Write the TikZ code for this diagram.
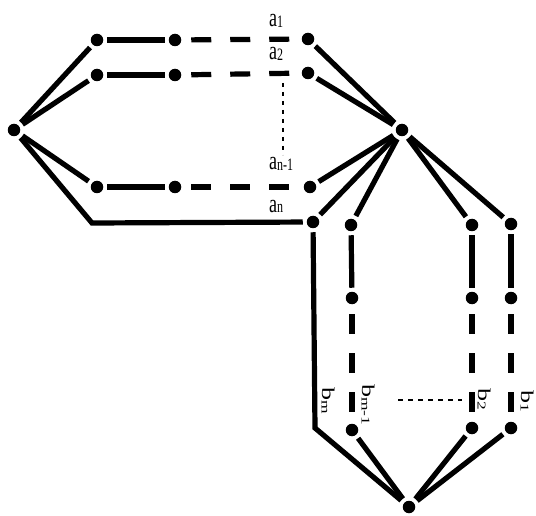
\documentclass[tikz,border=0pt]{standalone}
\usepackage{fontspec}
\setmainfont{Liberation Serif}
\begin{document}
\begin{tikzpicture}[x=1pt,y=-1pt,
  dot/.style={circle,fill=black,inner sep=0pt,minimum size=12.5pt,outer sep=4pt},
  edge/.style={line width=5.2pt},
  dashedge/.style={line width=5.2pt,dash pattern=on 20pt off 19pt,dash phase=33pt},
  guide/.style={line width=1.8pt,dash pattern=on 5pt off 5pt},
  lab/.style={inner sep=0pt,font=\fontsize{18}{18}\selectfont}]
\useasboundingbox (0,0) rectangle (536,516);
% index labels, drawn stretched along the page's vertical
\newcommand{\idx}[2]{#1\raisebox{-0.5pt}{\fontsize{12}{12}\selectfont #2}}
\newcommand{\alab}[2]{\scalebox{1}[1.45]{\idx{#1}{#2}}}
\newcommand{\blab}[2]{\scalebox{1.45}[1]{\idx{#1}{#2}}}

% left hub and the rows a_1, a_2, a_{n-1}
\node[dot] (L) at (14,130) {};
\node[dot] (r11) at (97,40) {};
\node[dot] (r12) at (175,40) {};
\node[dot] (a1) at (308,39) {};
\node[dot] (r21) at (97,75) {};
\node[dot] (r22) at (175,75) {};
\node[dot] (a2) at (308,73) {};
\node[dot] (r31) at (97,187) {};
\node[dot] (r32) at (175,187) {};
\node[dot] (an1) at (310,187) {};
\node[dot] (an) at (313,222) {};
\coordinate (k1) at (92,223);

% central hub
\node[dot] (C) at (402,130) {};

% columns b_{m-1}, b_2, b_1
\node[dot] (p1) at (351,225) {};
\node[dot] (p2) at (352,298) {};
\node[dot] (bm1) at (352,430) {};
\node[dot] (q1) at (472,225) {};
\node[dot] (q2) at (472,298) {};
\node[dot] (b2) at (472,428) {};
\node[dot] (s1) at (511,224) {};
\node[dot] (s2) at (511,298) {};
\node[dot] (b1) at (511,428) {};
\coordinate (k2) at (315,428);

% bottom hub
\node[dot] (B) at (409,507) {};

% left hub edges
\draw[edge] (L) -- (r11);
\draw[edge] (L) -- (r21);
\draw[edge] (L) -- (r31);
\draw[edge,line join=miter] (L) -- (k1) -- (an);

% rows
\draw[edge] (r11) -- (r12);
\draw[dashedge] (r12) -- (a1);
\draw[edge] (r21) -- (r22);
\draw[dashedge] (r22) -- (a2);
\draw[edge] (r31) -- (r32);
\draw[dashedge] (r32) -- (an1);

% central hub edges
\foreach \t in {a1,a2,an1,an,p1,q1,s1}
  \draw[edge] (C) -- (\t);

% columns
\draw[edge] (p1) -- (p2);
\draw[dashedge] (p2) -- (bm1);
\draw[edge] (q1) -- (q2);
\draw[dashedge] (q2) -- (b2);
\draw[edge] (s1) -- (s2);
\draw[dashedge] (s2) -- (b1);
\draw[edge,line join=miter] (an) -- (k2) -- (B);

% bottom hub edges
\foreach \t in {bm1,b2,b1}
  \draw[edge] (B) -- (\t);

% ellipsis guides
\draw[guide,dash pattern=on 4pt off 5pt] (283,83) -- (283,155);
\draw[guide] (398,400) -- (462,400);

% labels
\node[lab,anchor=base west] at (269,27) {\alab{a}{1}};
\node[lab,anchor=base west] at (269,60) {\alab{a}{2}};
\node[lab,anchor=base west] at (269,170) {\alab{a}{n-1}};
\node[lab,anchor=base west] at (269,212) {\alab{a}{n}};
\node[lab,rotate=-90,anchor=base west] at (322,387) {\blab{b}{m}};
\node[lab,rotate=-90,anchor=base west] at (362,384) {\blab{b}{m-1}};
\node[lab,rotate=-90,anchor=base west] at (478,388) {\blab{b}{2}};
\node[lab,rotate=-90,anchor=base west] at (521,390) {\blab{b}{1}};
\end{tikzpicture}
\end{document}
